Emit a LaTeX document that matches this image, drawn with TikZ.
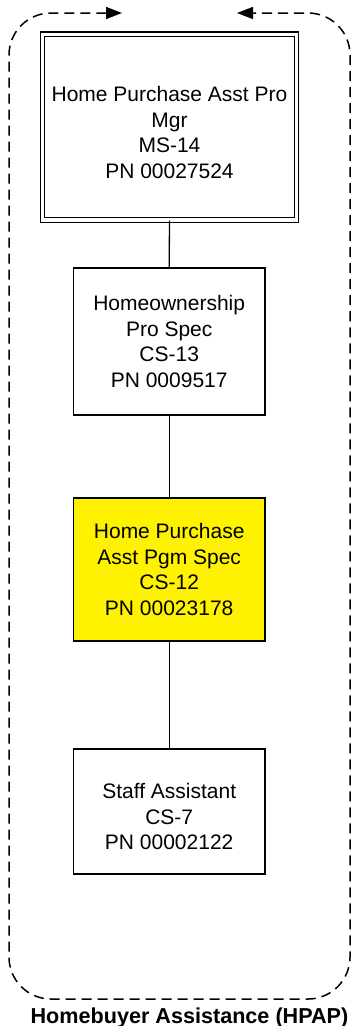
\documentclass[tikz,border=0pt]{standalone}
\usepackage{fontspec}
\setmainfont{Liberation Sans}
\usetikzlibrary{arrows.meta}
\begin{document}
\begin{tikzpicture}[x=1pt,y=1pt,
  posbox/.style={draw=black, line width=1.8pt, inner sep=0pt, align=center,
    font=\fontsize{21}{25.5}\selectfont, minimum width=191.4pt},
  link/.style={draw=black, line width=1.3pt},
  frame/.style={draw=black, line width=1.5pt, dash pattern=on 10pt off 6pt, rounded corners=42pt}
]
\useasboundingbox (0,0) rectangle (355,-1026);
\fill[white] (0,0) rectangle (355,-1026);
% dashed boundary
\coordinate (fa) at (122,-13);
\coordinate (fb) at (237,-13);
\draw[frame, {Triangle[length=16pt,width=12pt]}-{Triangle[length=16pt,width=12pt]}]
  (fa) -- (9,-13) -- (9,-999) -- (350,-999) -- (350,-13) -- (fb);
% boxes
\node[posbox, double, line width=1.3pt, double distance=3.2pt,
      minimum width=254.1pt, minimum height=185.8pt] (mgr) at (169.5,-127.1)
  {\mbox{}\\Home Purchase Asst Pro\\Mgr\\MS-14\\PN 00027524};
\node[posbox, minimum height=147.4pt] (spec) at (169.2,-341.5)
  {Homeownership\\Pro Spec\\CS-13\\PN 0009517};
\node[posbox, fill=yellow, minimum height=143.4pt] (pgm) at (169.2,-569.5)
  {Home Purchase\\Asst Pgm Spec\\CS-12\\PN 00023178};
\node[posbox, minimum height=125.4pt] (staff) at (169.2,-811.5)
  {\mbox{}\\Staff Assistant\\CS-7\\PN 00002122};
% connectors
\draw[link] (mgr.south) -- (spec.north);
\draw[link] (spec.south) -- (pgm.north);
\draw[link] (pgm.south) -- (staff.north);
% label
\node[anchor=base, inner sep=0pt, font=\fontsize{21.6}{25}\selectfont\bfseries] (title) at (189.5,-1023)
  {Homebuyer Assistance (HPAP)};
\end{tikzpicture}
\end{document}
